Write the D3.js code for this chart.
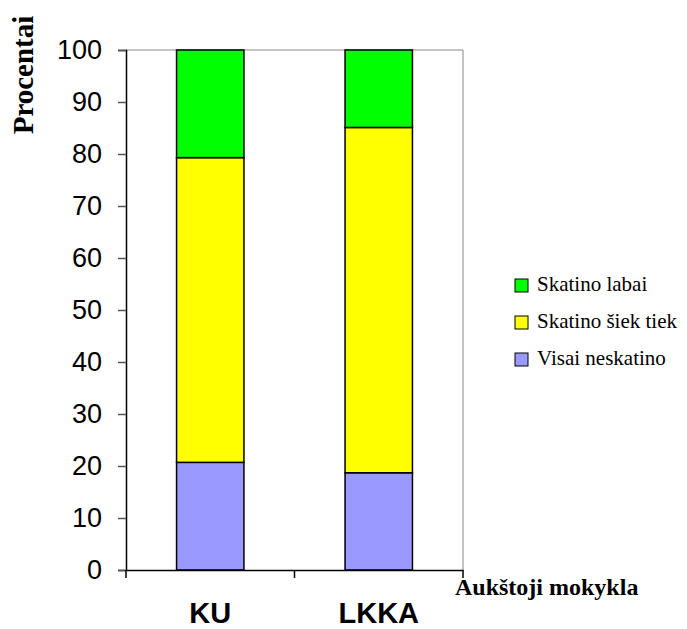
<!DOCTYPE html>
<html>
<head>
<meta charset="utf-8">
<script src="https://cdn.jsdelivr.net/npm/d3@7"></script>
<style>
body { margin: 0; background: #fff; }
</style>
</head>
<body>
<div id="chart"></div>
<script>
var categories = ["KU", "LKKA"];
var seriesNames = ["Visai neskatino", "Skatino šiek tiek", "Skatino labai"];
var visaiNeskatino = [20.7, 18.7];
var skatinoSiekTiek = [58.6, 66.4];
var skatinoLabai = [20.7, 14.9];
var yTicks = [0, 10, 20, 30, 40, 50, 60, 70, 80, 90, 100];
var colors = ["#9999ff", "#ffff00", "#00ff00"];

var w = 687, h = 629;
var mLeft = 126, mRight = 463, mTop = 50, mBottom = 570;

var svg = d3.select("#chart").append("svg")
    .attr("width", w)
    .attr("height", h);

var rows = categories.map(function (c, i) {
    return {cat: c, s0: visaiNeskatino[i], s1: skatinoSiekTiek[i], s2: skatinoLabai[i]};
});
var stacked = d3.stack().keys(["s0", "s1", "s2"])(rows);

var x = d3.scaleBand().domain(categories).range([mLeft, mRight])
    .paddingInner(0.6).paddingOuter(0.3);
var y = d3.scaleLinear().domain([0, 100]).range([mBottom, mTop]);

// plot area border (top & right)
svg.append("path")
    .attr("d", "M" + mLeft + "," + mTop + "H" + mRight + "V" + mBottom)
    .attr("fill", "none")
    .attr("stroke", "#888")
    .attr("stroke-width", 1);

// bars
svg.selectAll("g.layer")
    .data(stacked)
    .enter()
    .append("g")
    .attr("fill", function (d, i) { return colors[i]; })
    .selectAll("rect")
    .data(function (d) { return d; })
    .enter()
    .append("rect")
    .attr("x", function (d) { return x(d.data.cat); })
    .attr("width", x.bandwidth())
    .attr("y", function (d) { return y(d[1]); })
    .attr("height", function (d) { return y(d[0]) - y(d[1]); })
    .attr("stroke", "#000")
    .attr("stroke-width", 1.5);

// y axis
var yAxis = svg.append("g")
    .attr("transform", "translate(" + mLeft + ",0)")
    .call(d3.axisLeft(y).tickValues(yTicks).tickSize(8).tickPadding(16));
yAxis.select(".domain").attr("stroke", "#000").attr("stroke-width", 1.5);
yAxis.selectAll(".tick line").attr("stroke", "#555").attr("stroke-width", 1.5);
yAxis.selectAll(".tick text")
    .attr("font-family", "Arial, 'Liberation Sans', sans-serif")
    .attr("font-size", "27px")
    .attr("fill", "#000");

// x axis
var xAxis = svg.append("g")
    .attr("transform", "translate(0," + mBottom + ")")
    .call(d3.axisBottom(x).tickSize(0).tickPadding(32));
xAxis.select(".domain").attr("stroke", "#000").attr("stroke-width", 1.5);
xAxis.selectAll(".tick text")
    .attr("font-family", "Arial, 'Liberation Sans', sans-serif")
    .attr("font-size", "29px")
    .attr("font-weight", "bold")
    .attr("fill", "#000");
// category separators
var seps = [mLeft, (x("KU") + x.bandwidth() + x("LKKA")) / 2, mRight];
xAxis.selectAll("line.sep")
    .data(seps)
    .enter()
    .append("line")
    .attr("class", "sep")
    .attr("x1", function (d) { return d; })
    .attr("x2", function (d) { return d; })
    .attr("y1", 0)
    .attr("y2", 8)
    .attr("stroke", "#000")
    .attr("stroke-width", 1.5);

// axis titles
svg.append("text")
    .attr("transform", "translate(33,75) rotate(-90)")
    .attr("text-anchor", "middle")
    .attr("font-family", "'Times New Roman', 'Liberation Serif', serif")
    .attr("font-size", "29px")
    .attr("font-weight", "bold")
    .text("Procentai");

svg.append("text")
    .attr("x", 455)
    .attr("y", 595)
    .attr("font-family", "'Times New Roman', 'Liberation Serif', serif")
    .attr("font-size", "24px")
    .attr("font-weight", "bold")
    .text("Aukštoji mokykla");

// legend
var legendOrder = [2, 1, 0];
var lg = svg.selectAll("g.legend")
    .data(legendOrder)
    .enter()
    .append("g")
    .attr("transform", function (d, i) { return "translate(515," + (279 + i * 37) + ")"; });
lg.append("rect")
    .attr("width", 13)
    .attr("height", 13)
    .attr("fill", function (d) { return colors[d]; })
    .attr("stroke", "#000")
    .attr("stroke-width", 1);
lg.append("text")
    .attr("x", 22)
    .attr("y", 12)
    .attr("font-family", "'Times New Roman', 'Liberation Serif', serif")
    .attr("font-size", "21px")
    .text(function (d) { return seriesNames[d]; });
</script>
</body>
</html>
